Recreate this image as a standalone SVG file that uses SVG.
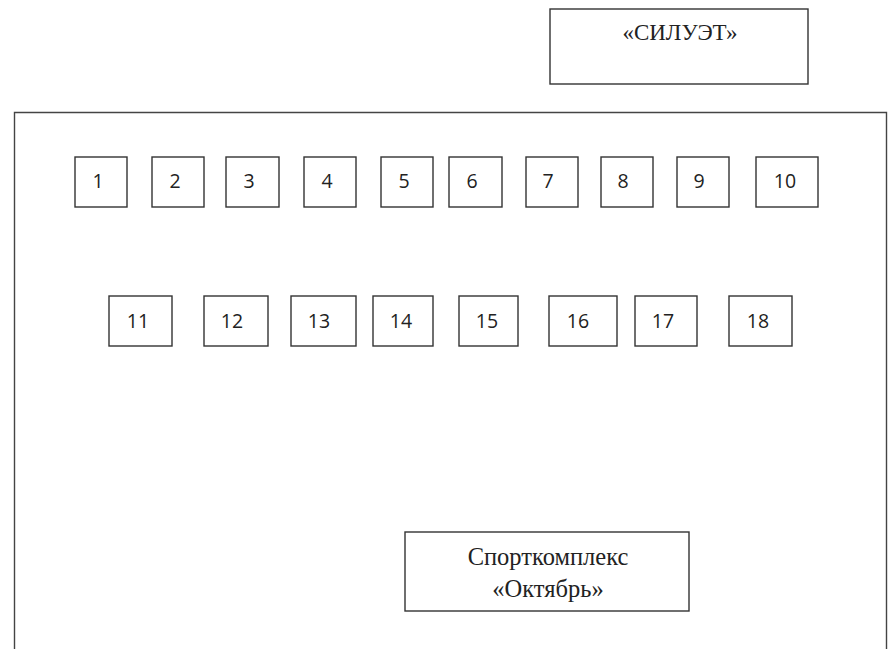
<svg xmlns="http://www.w3.org/2000/svg" width="895" height="649" viewBox="0 0 895 649">
<style>
rect{fill:#fff;stroke:#333;stroke-width:1.4}
.o{fill:none;stroke:#444;stroke-width:1.4}
.n{font-family:"Open Sans","DejaVu Sans",sans-serif;font-size:19.5px;fill:#222;text-anchor:middle}
.s{font-family:"Liberation Serif","Times New Roman",serif;font-size:23px;fill:#222;text-anchor:middle}
.b{font-size:24.5px}
</style>
<rect width="895" height="649" style="stroke:none"/>
<g id="area"><path class="o" d="M14.5,649V112.5H886.5V649"/></g>
<g id="siluet"><rect x="550" y="9" width="258" height="75"/><text class="s" x="680" y="40">«СИЛУЭТ»</text></g>
<g id="n1"><rect x="75" y="157" width="52" height="50"/><text class="n" x="98" y="188">1</text></g>
<g id="n2"><rect x="152" y="157" width="52" height="50"/><text class="n" x="175" y="188">2</text></g>
<g id="n3"><rect x="226" y="157" width="53" height="50"/><text class="n" x="249" y="188">3</text></g>
<g id="n4"><rect x="304" y="157" width="52" height="50"/><text class="n" x="327" y="188">4</text></g>
<g id="n5"><rect x="381" y="157" width="52" height="50"/><text class="n" x="404" y="188">5</text></g>
<g id="n6"><rect x="449" y="157" width="53" height="50"/><text class="n" x="472" y="188">6</text></g>
<g id="n7"><rect x="526" y="157" width="52" height="50"/><text class="n" x="548" y="188">7</text></g>
<g id="n8"><rect x="601" y="157" width="52" height="50"/><text class="n" x="623" y="188">8</text></g>
<g id="n9"><rect x="677" y="157" width="52" height="50"/><text class="n" x="699" y="188">9</text></g>
<g id="n10"><rect x="756" y="157" width="62" height="50"/><text class="n" x="785" y="188">10</text></g>
<g id="n11"><rect x="109" y="296" width="63" height="50"/><text class="n" x="138" y="328">11</text></g>
<g id="n12"><rect x="204" y="296" width="64" height="50"/><text class="n" x="232" y="328">12</text></g>
<g id="n13"><rect x="291" y="296" width="65" height="50"/><text class="n" x="319" y="328">13</text></g>
<g id="n14"><rect x="373" y="296" width="60" height="50"/><text class="n" x="401" y="328">14</text></g>
<g id="n15"><rect x="459" y="296" width="59" height="50"/><text class="n" x="487" y="328">15</text></g>
<g id="n16"><rect x="549" y="296" width="68" height="50"/><text class="n" x="578" y="328">16</text></g>
<g id="n17"><rect x="635" y="296" width="62" height="50"/><text class="n" x="663" y="328">17</text></g>
<g id="n18"><rect x="729" y="296" width="63" height="50"/><text class="n" x="758" y="328">18</text></g>
<g id="sport"><rect x="405" y="532" width="284" height="79"/><text class="s b" x="548" y="565">Спорткомплекс</text><text class="s b" x="548" y="597">«Октябрь»</text></g>
<g id="connectors"/>
</svg>
